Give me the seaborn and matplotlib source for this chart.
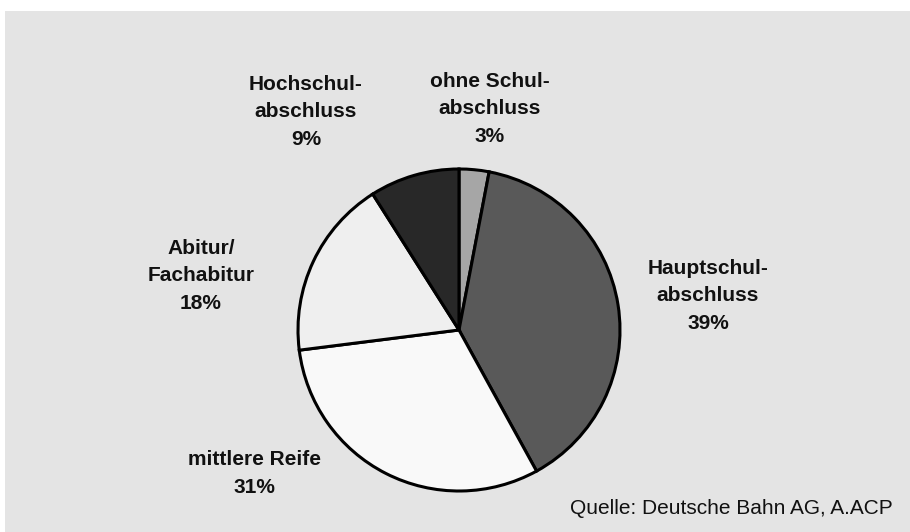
import matplotlib
matplotlib.use("Agg")
import matplotlib.pyplot as plt
from matplotlib.patches import Rectangle
import seaborn as sns

# data, clockwise from 12 o'clock
categories = ["ohne Schulabschluss", "Hauptschulabschluss", "mittlere Reife",
              "Abitur/Fachabitur", "Hochschulabschluss"]
shares = [3, 39, 31, 18, 9]
label_texts = ["ohne Schul-\nabschluss\n3%", "Hauptschul-\nabschluss\n39%",
               "mittlere Reife\n31%", "Abitur/\nFachabitur\n18%",
               "Hochschul-\nabschluss\n9%"]
slice_colors = ["#a6a6a6", "#595959", "#f9f9f9", "#efefef", "#282828"]
source_note = "Quelle: Deutsche Bahn AG, A.ACP"

sns.set_theme(style="white")
plt.rcParams["font.family"] = ["Liberation Sans", "DejaVu Sans"]

W, H = 910, 532
fig = plt.figure(figsize=(W / 100, H / 100), dpi=100, facecolor="white")
fig.patches.append(Rectangle((5 / W, 0), 1, 1 - 11 / H, transform=fig.transFigure,
                             facecolor="#e4e4e4", edgecolor="none", zorder=-10))

# axes in pixel units, y measured upward
ax = fig.add_axes([0, 0, 1, 1])
ax.pie(shares, colors=slice_colors, startangle=90, counterclock=False,
       center=(459, H - 330), radius=161,
       wedgeprops=dict(edgecolor="black", linewidth=2.2))
ax.set_xlim(0, W)
ax.set_ylim(0, H)
ax.set_aspect("equal")
ax.axis("off")

# label anchor: (center x, last baseline y) in image pixels
label_pos = [(490, 142), (708, 329), (254, 493), (201, 309), (306, 145)]
for txt, (x, y) in zip(label_texts, label_pos):
    ax.text(x, H - y, txt, ha="center", va="baseline", fontsize=15,
            fontweight="bold", color="#111111", linespacing=1.58)

ax.text(893, H - 514, source_note, ha="right", va="baseline", fontsize=15,
        color="#111111")

fig.savefig("out.png", dpi=100, facecolor="white")
